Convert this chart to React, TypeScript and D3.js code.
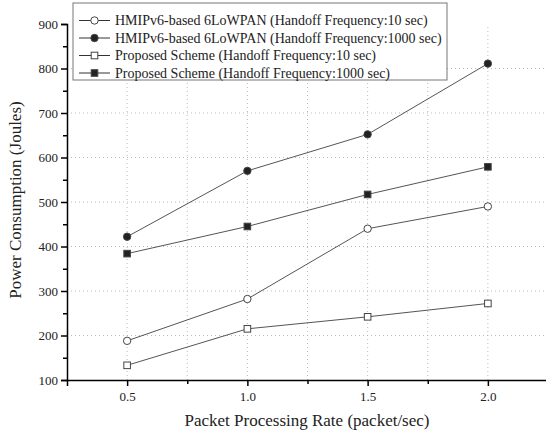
import React, { useEffect, useRef } from "react";
import * as d3 from "d3";

const rates = [0.5, 1.0, 1.5, 2.0];
const hmip10 = [188, 282, 440, 490];
const hmip1000 = [422, 570, 652, 811];
const prop10 = [133, 215, 242, 272];
const prop1000 = [384, 445, 517, 579];
const seriesNames = [
  "HMIPv6-based 6LoWPAN (Handoff Frequency:10 sec)",
  "HMIPv6-based 6LoWPAN (Handoff Frequency:1000 sec)",
  "Proposed Scheme (Handoff Frequency:10 sec)",
  "Proposed Scheme (Handoff Frequency:1000 sec)",
];
const xTicks = [0.5, 1.0, 1.5, 2.0];
const yTicks = [100, 200, 300, 400, 500, 600, 700, 800, 900];

const FONT = "'Liberation Serif', 'Times New Roman', serif";

export default function App() {
  const ref = useRef<SVGSVGElement>(null);

  useEffect(() => {
    const svg = d3.select(ref.current);
    svg.selectAll("*").remove();

    const x = d3.scaleLinear().domain([0.25, 2.25]).range([67, 548]);
    const y = d3.scaleLinear().domain([100, 900]).range([380, 24]);

    // grid
    const grid = svg.append("g");
    [0.5, 0.75, 1.0, 1.25, 1.5, 1.75, 2.0].forEach((v) => {
      grid.append("line").attr("x1", x(v)).attr("x2", x(v)).attr("y1", y(100)).attr("y2", y(900))
        .attr("stroke", "#aaa").attr("stroke-width", 0.8).attr("stroke-dasharray", "1,3");
    });
    [200, 300, 400, 500, 600, 700, 800].forEach((v) => {
      grid.append("line").attr("x1", x(0.25)).attr("x2", x(2.25)).attr("y1", y(v)).attr("y2", y(v))
        .attr("stroke", "#aaa").attr("stroke-width", 0.8).attr("stroke-dasharray", "1,3");
    });

    // axes
    const xAxis = svg.append("g").attr("transform", `translate(0,${y(100)})`)
      .call(d3.axisBottom(x).tickValues(xTicks).tickFormat(d3.format(".1f")).tickSize(6).tickPadding(6));
    svg.append("g").attr("transform", `translate(0,${y(100)})`)
      .call(d3.axisBottom(x).tickValues([0.75, 1.25, 1.75]).tickFormat(() => "").tickSize(4))
      .select(".domain").remove();
    const yAxis = svg.append("g").attr("transform", `translate(${x(0.25)},0)`)
      .call(d3.axisLeft(y).tickValues(yTicks).tickSize(6).tickPadding(3));
    svg.append("g").attr("transform", `translate(${x(0.25)},0)`)
      .call(d3.axisLeft(y).tickValues(d3.range(150, 900, 100)).tickFormat(() => "").tickSize(4))
      .select(".domain").remove();
    [xAxis, yAxis].forEach((a) => {
      a.select(".domain").attr("stroke-width", 1.5);
      a.selectAll("text").attr("font-family", FONT).attr("font-size", 13).attr("fill", "#222");
    });
    svg.selectAll(".tick line").attr("stroke-width", 1.5);

    // labels
    svg.append("text").attr("x", 307).attr("y", 426).attr("text-anchor", "middle")
      .attr("font-family", FONT).attr("font-size", 17).attr("fill", "#222")
      .text("Packet Processing Rate (packet/sec)");
    svg.append("text").attr("transform", `translate(21,${y(500) - 2}) rotate(-90)`).attr("text-anchor", "middle")
      .attr("font-family", FONT).attr("font-size", 17).attr("fill", "#222")
      .text("Power Consumption (Joules)");

    const series = [
      { v: hmip10, shape: "circle", fill: "#fff" },
      { v: hmip1000, shape: "circle", fill: "#222" },
      { v: prop10, shape: "square", fill: "#fff" },
      { v: prop1000, shape: "square", fill: "#222" },
    ];
    const line = d3.line<number>().x((_, i) => x(rates[i])).y((d) => y(d));

    const drawMarker = (g: any, shape: string, fill: string, cx: number, cy: number) => {
      if (shape === "circle") {
        g.append("circle").attr("cx", cx).attr("cy", cy).attr("r", 3.7)
          .attr("fill", fill).attr("stroke", "#444").attr("stroke-width", 1);
      } else {
        g.append("rect").attr("x", cx - 3.3).attr("y", cy - 3.3).attr("width", 6.6).attr("height", 6.6)
          .attr("fill", fill).attr("stroke", "#444").attr("stroke-width", 1);
      }
    };

    series.forEach((s) => {
      svg.append("path").attr("d", line(s.v)).attr("fill", "none").attr("stroke", "#555").attr("stroke-width", 1);
      const g = svg.append("g");
      s.v.forEach((d, i) => drawMarker(g, s.shape, s.fill, x(rates[i]), y(d)));
    });

    // legend
    const lg = svg.append("g");
    lg.append("rect").attr("x", 73).attr("y", 3).attr("width", 374).attr("height", 77)
      .attr("fill", "#fff").attr("stroke", "#777").attr("stroke-width", 1);
    seriesNames.forEach((name, i) => {
      const cy = 20.5 + i * 17.5;
      lg.append("line").attr("x1", 79).attr("x2", 110).attr("y1", cy).attr("y2", cy)
        .attr("stroke", "#333").attr("stroke-width", 1);
      drawMarker(lg, series[i].shape, series[i].fill, 94.5, cy);
      lg.append("text").attr("x", 115).attr("y", cy + 4.8).attr("font-family", FONT)
        .attr("font-size", 14).attr("fill", "#222").text(name);
    });
  }, []);

  return (
    <svg ref={ref} width={546} height={434}
      style={{ position: "absolute", left: 0, top: 0, background: "#fff" }} />
  );
}
